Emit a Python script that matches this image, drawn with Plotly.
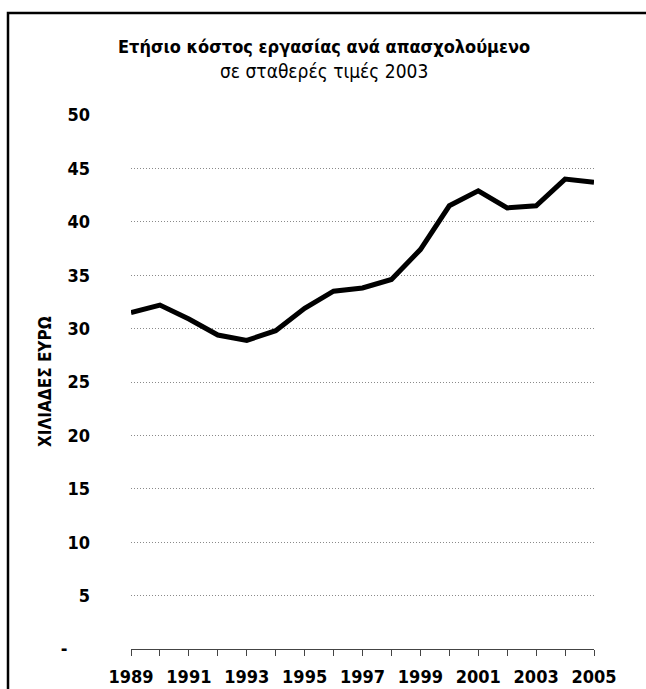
import plotly.graph_objects as go

years = list(range(1989, 2006))
cost = [31.5, 32.2, 30.9, 29.4, 28.9, 29.8, 31.9, 33.5, 33.8, 34.6, 37.4, 41.5, 42.9, 41.3, 41.5, 44.0, 43.7]

y_tickvals = [0, 5, 10, 15, 20, 25, 30, 35, 40, 45, 50]
y_ticktext = ["-\u00a0\u00a0\u00a0\u00a0", "5", "10", "15", "20", "25", "30", "35", "40", "45", "50"]
x_ticktext = [str(y) if (y - 1989) % 2 == 0 else "" for y in years]

title_main = "Ετήσιο κόστος εργασίας ανά απασχολούμενο"
title_sub = "σε σταθερές τιμές 2003"
y_title = "ΧΙΛΙΑΔΕΣ ΕΥΡΩ"

FONT = "DejaVu Sans Condensed, DejaVu Sans, sans-serif"

fig = go.Figure()
fig.add_trace(go.Scatter(
    x=years, y=cost, mode="lines",
    line=dict(color="black", width=5),
    hoverinfo="skip", showlegend=False,
))

L, R, T, B = 131, 52, 115, 40
W, H = 646, 689
pw, ph = W - L - R, H - T - B

def px(x):
    return (x - L) / pw

def py(y):
    return 1 - (y - T) / ph

fig.update_layout(
    width=W, height=H,
    margin=dict(l=L, r=R, t=T, b=B, pad=0, autoexpand=False),
    paper_bgcolor="white", plot_bgcolor="white",
    font=dict(family=FONT, color="black"),
    showlegend=False,
    xaxis=dict(
        range=[1989, 2005], tickvals=years, ticktext=x_ticktext,
        showgrid=False, zeroline=False, automargin=False,
        showline=True, linecolor="#444", linewidth=1,
        ticks="outside", ticklen=6, tickcolor="#444", tickwidth=1,
        tickfont=dict(family=FONT, size=18, color="black", weight="bold"),
        ticklabelstandoff=5,
    ),
    yaxis=dict(
        range=[0, 50], tickvals=y_tickvals, ticktext=y_ticktext,
        showgrid=True, gridcolor="#8a8a8a", griddash="1px,2px", gridwidth=1,
        zeroline=False, showline=False, ticks="", automargin=False,
        tickfont=dict(family=FONT, size=18, color="black", weight="bold"),
        ticklabelstandoff=40,
    ),
)

fig.add_annotation(
    text="<b>" + y_title + "</b>", xref="paper", yref="paper",
    x=px(45), y=py(382), xanchor="center", yanchor="middle", textangle=-90,
    showarrow=False, font=dict(family=FONT, size=17, color="black"),
)
fig.add_annotation(
    text="<b>" + title_main + "</b>", xref="paper", yref="paper",
    x=px(324), y=py(46), xanchor="center", yanchor="middle",
    showarrow=False, font=dict(family=FONT, size=18, color="black"),
)
fig.add_annotation(
    text=title_sub, xref="paper", yref="paper",
    x=px(324), y=py(71), xanchor="center", yanchor="middle",
    showarrow=False, font=dict(family=FONT, size=19, color="black"),
)

fig.add_shape(
    type="path", xref="paper", yref="paper",
    path=f"M {px(8)} {py(720)} L {px(8)} {py(13)} L {px(660)} {py(13)}",
    line=dict(color="black", width=2.5),
)

fig.write_html(
    "out.html",
    config={"displayModeBar": False},
    post_script="document.body.style.margin='0';document.body.style.overflow='hidden';",
)
